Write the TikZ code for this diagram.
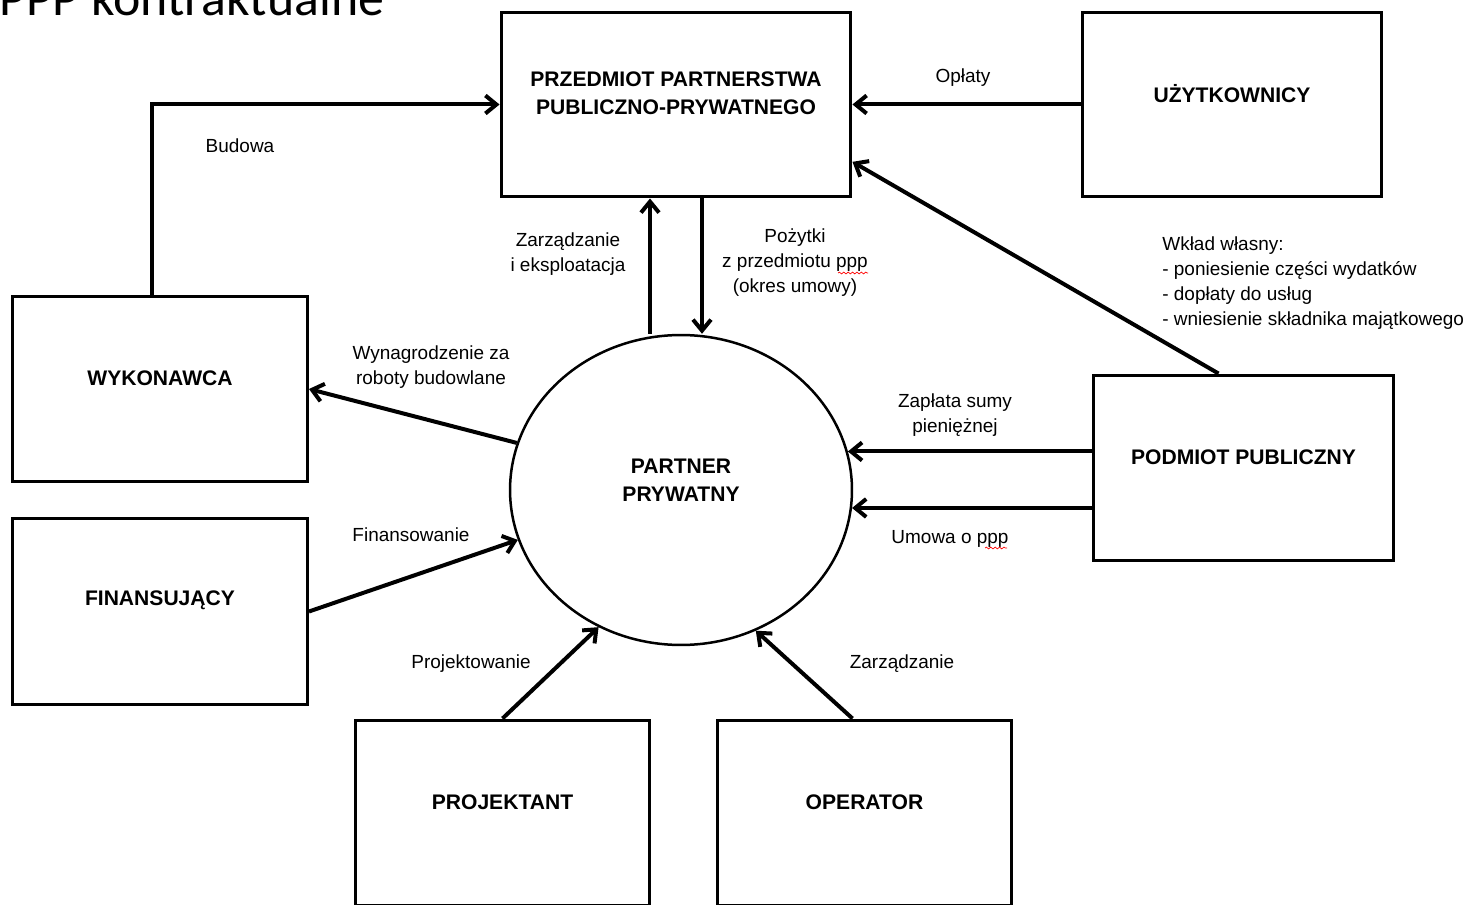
\documentclass[tikz,border=0pt]{standalone}
\usepackage{fontspec}
\setmainfont{Liberation Sans}
\newfontfamily\titlefont{Carlito}
\usetikzlibrary{arrows.meta,shapes.geometric,decorations.pathmorphing}

\begin{document}
\begin{tikzpicture}[x=0.02cm, y=-0.02cm]
    % --- 样式设置 ---
    \tikzstyle{box}=[draw, line width=0.06cm, minimum width=5.9cm, minimum height=3.72cm, inner sep=0]
    \tikzstyle{boxtext}=[font=\bfseries\fontsize{12}{15.9}\selectfont, align=center, yshift=0.22cm]
    \tikzstyle{arr}=[->, >={Straight Barb[length=0.22cm, width=0.36cm]}, line width=0.08cm]
    \tikzstyle{lbl}=[font=\fontsize{10.8}{14.2}\selectfont, align=center, inner sep=0]
    \tikzstyle{spell}=[red, line width=0.4pt, decorate, decoration={snake, amplitude=0.5pt, segment length=2.5pt}]

    % 0. 画布大小 (与原图比例一致)
    \useasboundingbox (0,0) rectangle (1477,905);
    \clip (0,0) rectangle (1477,905);

    % 1. 标题 (上半部分被裁掉, 与原图相同)
    \node[anchor=base west, inner sep=0, font=\titlefont\fontsize{29.5}{31}\selectfont] (title) at (-1,16) {PPP kontraktualne};

    % 2. 方框
    \node[box, minimum width=7cm, minimum height=3.7cm, label={[boxtext]center:PRZEDMIOT PARTNERSTWA\\PUBLICZNO-PRYWATNEGO}] (prz) at (676,104.5) {};
    \node[box, minimum width=6cm, minimum height=3.7cm, label={[boxtext]center:UŻYTKOWNICY}] (uzy) at (1232,104.5) {};
    \node[box, label={[boxtext]center:WYKONAWCA}] (wyk) at (160,389) {};
    \node[box, label={[boxtext]center:FINANSUJĄCY}] (fin) at (160,611.5) {};
    \node[box, minimum width=6cm, label={[boxtext]center:PODMIOT PUBLICZNY}] (pod) at (1243.5,468) {};
    \node[box, label={[boxtext]center:PROJEKTANT}] (proj) at (502.5,813) {};
    \node[box, label={[boxtext]center:OPERATOR}] (oper) at (864.5,813) {};

    % 3. 中间的椭圆
    \node[draw, ellipse, line width=0.05cm, minimum width=6.84cm, minimum height=6.2cm, inner sep=0,
          label={[boxtext, yshift=-0.02cm]center:PARTNER\\PRYWATNY}] (pp) at (681,490) {};

    % 4. 箭头
    \draw[arr] ([xshift=-0.16cm]wyk.north) |- (prz.west);
    \draw[arr] (uzy.west) -- (prz.east);
    \draw[arr] ([xshift=-0.62cm]pp.north) -- ([xshift=-0.62cm]pp.north |- prz.south);
    \draw[arr] ([xshift=0.42cm]pp.north |- prz.south) -- ([xshift=0.42cm]pp.north);
    \draw[arr] ([xshift=-0.5cm]pod.north) -- (prz.-18);
    \draw[arr] (pp.164) -- (wyk.east);
    \draw[arr] (fin.east) -- (pp.197);
    \draw[arr] (proj.north) -- (pp.239);
    \draw[arr] ([xshift=-0.24cm]oper.north) -- (pp.298);
    \draw[arr] (pp.13 -| pod.west) -- (pp.13);
    \draw[arr] (pp.-6 -| pod.west) -- (pp.-6);

    % 5. 文字标注
    \node[lbl] (budowa) at (240,146) {Budowa};
    \node[lbl] (oplaty) at (963,78) {Opłaty};
    \node[lbl] (zarz1) at (568,254) {Zarządzanie\\i eksploatacja};
    \node[lbl] (pozytki) at (795,263) {Pożytki\\z przedmiotu ppp\\(okres umowy)};
    \node[lbl, align=left, anchor=west] (wklad) at (1162,283.5) {Wkład własny:\\- poniesienie części wydatków\\- dopłaty do usług\\- wniesienie składnika majątkowego};
    \node[lbl] (wyn) at (431,367) {Wynagrodzenie za\\roboty budowlane};
    \node[lbl] (finans) at (411,535) {Finansowanie};
    \node[lbl] (projekt) at (471,664) {Projektowanie};
    \node[lbl] (zarz2) at (902,664) {Zarządzanie};
    \node[lbl] (zaplata) at (955,415) {Zapłata sumy\\pieniężnej};
    \node[lbl] (umowa) at (950,539) {Umowa o ppp};

    % 6. 拼写检查的红色波浪线
    \draw[spell] (838,273) -- (868,273);
    \draw[spell] (985,548) -- (1007,548);

\end{tikzpicture}
\end{document}
